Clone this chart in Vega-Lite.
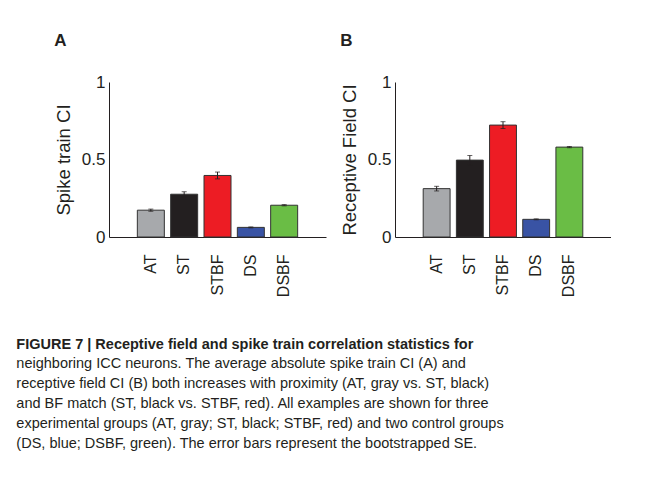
{
  "$schema": "https://vega.github.io/schema/vega-lite/v6.json",
  "padding": {"left": 16, "top": 32, "right": 0, "bottom": 0},
  "background": "white",
  "config": {
    "font": "Liberation Sans",
    "view": {"stroke": null},
    "axis": {
      "domainColor": "#231f20",
      "domainWidth": 1,
      "labelColor": "#231f20",
      "titleColor": "#231f20",
      "grid": false,
      "ticks": false
    }
  },
  "title": {
    "text": ["FIGURE 7 | Receptive field and spike train correlation statistics for"],
    "subtitle": [
      "neighboring ICC neurons. The average absolute spike train CI (A) and",
      "receptive field CI (B) both increases with proximity (AT, gray vs. ST, black)",
      "and BF match (ST, black vs. STBF, red). All examples are shown for three",
      "experimental groups (AT, gray; ST, black; STBF, red) and two control groups",
      "(DS, blue; DSBF, green). The error bars represent the bootstrapped SE."
    ],
    "orient": "bottom",
    "anchor": "start",
    "frame": "bounds",
    "offset": 41,
    "dx": -38,
    "font": "Liberation Sans",
    "fontSize": 14.5,
    "fontWeight": "bold",
    "color": "#231f20",
    "lineHeight": 20,
    "subtitleFont": "Liberation Sans",
    "subtitleFontSize": 14.5,
    "subtitleFontWeight": "normal",
    "subtitleColor": "#231f20",
    "subtitleLineHeight": 20,
    "subtitlePadding": 5
  },
  "datasets": {
    "A": [
      {"group": "AT", "value": 0.173, "err": 0.007},
      {"group": "ST", "value": 0.276, "err": 0.016},
      {"group": "STBF", "value": 0.397, "err": 0.022},
      {"group": "DS", "value": 0.062, "err": 0.003},
      {"group": "DSBF", "value": 0.205, "err": 0.004}
    ],
    "B": [
      {"group": "AT", "value": 0.312, "err": 0.015},
      {"group": "ST", "value": 0.496, "err": 0.03},
      {"group": "STBF", "value": 0.722, "err": 0.022},
      {"group": "DS", "value": 0.114, "err": 0.003},
      {"group": "DSBF", "value": 0.58, "err": 0.004}
    ]
  },
  "spacing": 14,
  "hconcat": [
    {
      "title": {"text": "A", "anchor": "start", "frame": "bounds", "fontSize": 17, "fontWeight": "bold", "offset": 23, "color": "#231f20"},
      "width": 217,
      "height": 155,
      "data": {"name": "A"},
      "encoding": {
        "x": {
          "field": "group", "type": "nominal",
          "sort": ["AT", "ST", "STBF", "DS", "DSBF"],
          "scale": {"paddingInner": 0.19, "paddingOuter": 0.85},
          "axis": {"title": null, "labelAngle": -90, "labelFontSize": 16, "labelPadding": 17}
        },
        "y": {
          "field": "value", "type": "quantitative",
          "scale": {"domain": [0, 1]},
          "axis": {"values": [0, 0.5, 1], "labelExpr": "datum.value + ''", "title": "Spike train CI", "titleFontSize": 18.5, "titleFontWeight": "normal", "titlePadding": 8, "labelFontSize": 17, "labelPadding": 4}
        }
      },
      "layer": [
        {
          "mark": {"type": "bar", "stroke": "#333333", "strokeWidth": 1},
          "encoding": {
            "color": {
              "field": "group", "type": "nominal", "legend": null,
              "scale": {"domain": ["AT", "ST", "STBF", "DS", "DSBF"], "range": ["#a7a9ac", "#231f20", "#ed1c24", "#3953a4", "#6abd45"]}
            }
          }
        },
        {
          "mark": {"type": "errorbar", "ticks": {"size": 5, "color": "#231f20"}, "rule": {"color": "#231f20"}},
          "encoding": {
            "yError": {"field": "err"}
          }
        }
      ]
    },
    {
      "title": {"text": "B", "anchor": "start", "frame": "bounds", "fontSize": 17, "fontWeight": "bold", "offset": 23, "color": "#231f20"},
      "width": 216,
      "height": 155,
      "data": {"name": "B"},
      "encoding": {
        "x": {
          "field": "group", "type": "nominal",
          "sort": ["AT", "ST", "STBF", "DS", "DSBF"],
          "scale": {"paddingInner": 0.19, "paddingOuter": 0.85},
          "axis": {"title": null, "labelAngle": -90, "labelFontSize": 16, "labelPadding": 17}
        },
        "y": {
          "field": "value", "type": "quantitative",
          "scale": {"domain": [0, 1]},
          "axis": {"values": [0, 0.5, 1], "labelExpr": "datum.value + ''", "title": "Receptive Field CI", "titleFontSize": 18.5, "titleFontWeight": "normal", "titlePadding": 8, "labelFontSize": 17, "labelPadding": 4}
        }
      },
      "layer": [
        {
          "mark": {"type": "bar", "stroke": "#333333", "strokeWidth": 1},
          "encoding": {
            "color": {
              "field": "group", "type": "nominal", "legend": null,
              "scale": {"domain": ["AT", "ST", "STBF", "DS", "DSBF"], "range": ["#a7a9ac", "#231f20", "#ed1c24", "#3953a4", "#6abd45"]}
            }
          }
        },
        {
          "mark": {"type": "errorbar", "ticks": {"size": 5, "color": "#231f20"}, "rule": {"color": "#231f20"}},
          "encoding": {
            "yError": {"field": "err"}
          }
        }
      ]
    }
  ]
}
